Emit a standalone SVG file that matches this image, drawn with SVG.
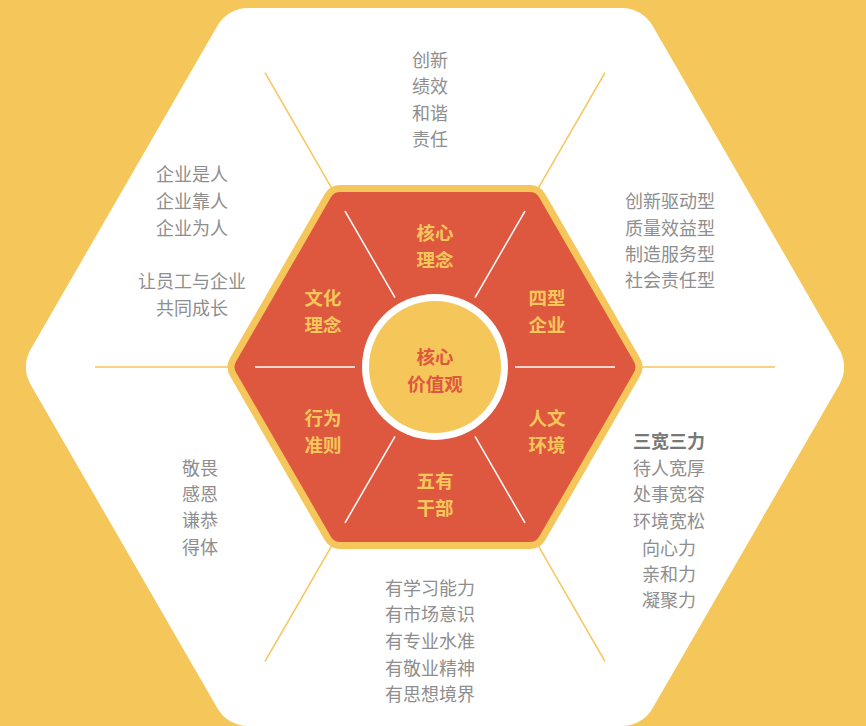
<svg xmlns="http://www.w3.org/2000/svg" width="866" height="726" viewBox="0 0 866 726">
<style>
.lbl{font-family:"Noto Sans CJK SC","Noto Sans",sans-serif;font-size:18px;fill:#8e8e8e;text-anchor:middle;dominant-baseline:central}
.bold{font-weight:bold;fill:#777}
.seg{font-family:"Noto Sans CJK SC","Noto Sans",sans-serif;font-size:18.5px;font-weight:bold;fill:#F5C65A;text-anchor:middle;dominant-baseline:central}
.core{fill:#DE5840}
.wl{stroke:#ffffff;stroke-width:1.5}
.yl{stroke:#F5C65A;stroke-width:1.5}
</style>
<rect width="866" height="726" fill="#F5C75B"/>
<g id="outer-hex">
<polygon points="809.1,367 622.1,43 247.9,43 60.9,367 247.9,691 622.1,691" fill="#ffffff" stroke="#ffffff" stroke-width="70" stroke-linejoin="round"/>
</g>
<g id="connectors">
<line class="yl" x1="635" y1="367" x2="775" y2="367"/>
<line class="yl" x1="235" y1="367" x2="95" y2="367"/>
<line class="yl" x1="535" y1="193.8" x2="605" y2="72.6"/>
<line class="yl" x1="335" y1="193.8" x2="265" y2="72.6"/>
<line class="yl" x1="535" y1="540.2" x2="605" y2="661.4"/>
<line class="yl" x1="335" y1="540.2" x2="265" y2="661.4"/>
</g>
<g id="inner-hex">
<polygon points="624.4,367 529.7,203 340.3,203 245.6,367 340.3,531 529.7,531" fill="#F5C65A" stroke="#F5C65A" stroke-width="36" stroke-linejoin="round"/>
<polygon points="624.4,367 529.7,203 340.3,203 245.6,367 340.3,531 529.7,531" fill="#DE5840" stroke="#DE5840" stroke-width="22" stroke-linejoin="round"/>
<line class="wl" x1="515" y1="367" x2="615" y2="367"/>
<line class="wl" x1="355" y1="367" x2="255" y2="367"/>
<line class="wl" x1="475" y1="297.7" x2="525" y2="211.1"/>
<line class="wl" x1="395" y1="297.7" x2="345" y2="211.1"/>
<line class="wl" x1="475" y1="436.3" x2="525" y2="522.9"/>
<line class="wl" x1="395" y1="436.3" x2="345" y2="522.9"/>
</g>
<g id="core">
<circle cx="435" cy="367" r="73" fill="#ffffff"/>
<circle cx="435" cy="367" r="66" fill="#F5C65A"/>
<text class="seg core" x="435" y="355.5">核心</text>
<text class="seg core" x="435" y="382.5">价值观</text>
</g>
<g id="seg-hexin">
<text class="seg" x="435" y="231.5">核心</text>
<text class="seg" x="435" y="258.5">理念</text>
</g>
<g id="seg-wenhua">
<text class="seg" x="323" y="296.5">文化</text>
<text class="seg" x="323" y="323.5">理念</text>
</g>
<g id="seg-sixing">
<text class="seg" x="547" y="296.5">四型</text>
<text class="seg" x="547" y="323.5">企业</text>
</g>
<g id="seg-xingwei">
<text class="seg" x="323" y="416.5">行为</text>
<text class="seg" x="323" y="443.5">准则</text>
</g>
<g id="seg-renwen">
<text class="seg" x="547" y="416.5">人文</text>
<text class="seg" x="547" y="443.5">环境</text>
</g>
<g id="seg-wuyou">
<text class="seg" x="435" y="479.5">五有</text>
<text class="seg" x="435" y="506.5">干部</text>
</g>
<g id="txt-top">
<text class="lbl" x="430" y="59">创新</text>
<text class="lbl" x="430" y="85">绩效</text>
<text class="lbl" x="430" y="112">和谐</text>
<text class="lbl" x="430" y="138">责任</text>
</g>
<g id="txt-upper-left">
<text class="lbl" x="192" y="173">企业是人</text>
<text class="lbl" x="192" y="200">企业靠人</text>
<text class="lbl" x="192" y="227">企业为人</text>
<text class="lbl" x="192" y="280">让员工与企业</text>
<text class="lbl" x="192" y="307">共同成长</text>
</g>
<g id="txt-upper-right">
<text class="lbl" x="670" y="200">创新驱动型</text>
<text class="lbl" x="670" y="227">质量效益型</text>
<text class="lbl" x="670" y="253">制造服务型</text>
<text class="lbl" x="670" y="279">社会责任型</text>
</g>
<g id="txt-lower-right">
<text class="lbl bold" x="669" y="440">三宽三力</text>
<text class="lbl" x="669" y="467">待人宽厚</text>
<text class="lbl" x="669" y="493">处事宽容</text>
<text class="lbl" x="669" y="520">环境宽松</text>
<text class="lbl" x="669" y="547">向心力</text>
<text class="lbl" x="669" y="573">亲和力</text>
<text class="lbl" x="669" y="599">凝聚力</text>
</g>
<g id="txt-lower-left">
<text class="lbl" x="200" y="467">敬畏</text>
<text class="lbl" x="200" y="493">感恩</text>
<text class="lbl" x="200" y="519">谦恭</text>
<text class="lbl" x="200" y="546">得体</text>
</g>
<g id="txt-bottom">
<text class="lbl" x="430" y="587">有学习能力</text>
<text class="lbl" x="430" y="613">有市场意识</text>
<text class="lbl" x="430" y="640">有专业水准</text>
<text class="lbl" x="430" y="667">有敬业精神</text>
<text class="lbl" x="430" y="693">有思想境界</text>
</g>
</svg>
